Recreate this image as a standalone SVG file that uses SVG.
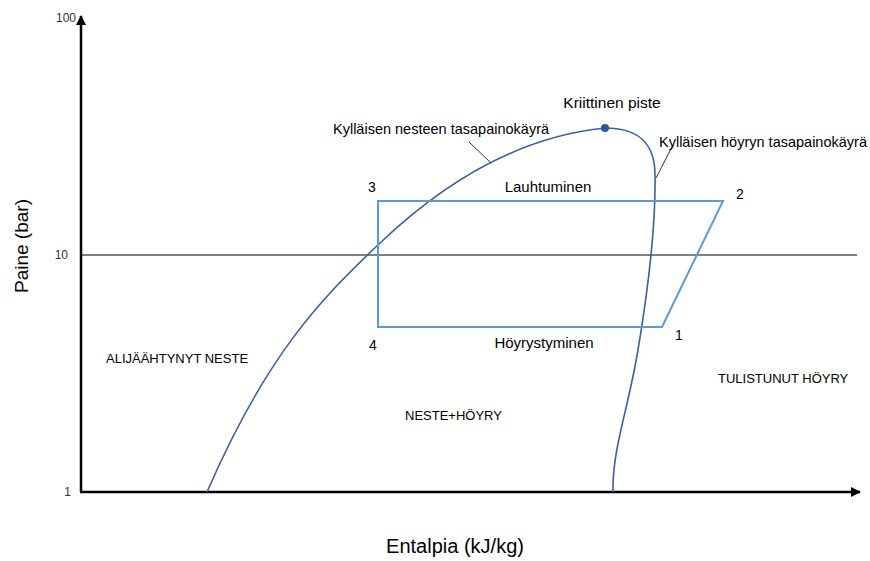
<svg xmlns="http://www.w3.org/2000/svg" width="870" height="561" viewBox="0 0 870 561">
<style>
text{font-family:"Liberation Sans",Arial,sans-serif;fill:#000}
.lbl{font-size:13px}
.lw{font-size:15px}
.num{font-size:14px}
.tick{font-size:12px;fill:#333}
.axis{stroke:#000;stroke-width:2.5;fill:none}
.sat{stroke:#3B5FA3;stroke-width:1.6;fill:none}
.cyc{stroke:#5B9BD5;stroke-width:2;fill:none}
.lead{stroke:#333;stroke-width:1;fill:none}
</style>
<defs>
<marker id="ah" viewBox="0 0 10 10" refX="9" refY="5" markerWidth="4" markerHeight="4" orient="auto">
<path d="M0,0 L10,5 L0,10 z" fill="#000"/>
</marker>
</defs>
<rect width="870" height="561" fill="#fff"/>
<g id="axes">
<line class="axis" x1="81" y1="492" x2="81" y2="16" marker-end="url(#ah)"/>
<line class="axis" x1="80" y1="492" x2="860" y2="492" marker-end="url(#ah)"/>
<line x1="81" y1="255" x2="857" y2="255" stroke="#000" stroke-width="1"/>
<text class="tick" x="76" y="22" text-anchor="end">100</text>
<text class="tick" x="68" y="259" text-anchor="end">10</text>
<text class="tick" x="71" y="496" text-anchor="end">1</text>
<text transform="translate(28,246) rotate(-90)" text-anchor="middle" font-size="19">Paine (bar)</text>
<text x="455" y="553" text-anchor="middle" font-size="20">Entalpia (kJ/kg)</text>
</g>
<g id="saturation">
<path class="sat" d="M207,492 C267,354 320,300 380,243 C450,176.5 525,136 605,128"/>
<path class="sat" d="M605,128 C635,128 655,140 655,175 C656,230 648,290 638,350 C628,410 612,450 613,492"/>
<circle cx="605" cy="128" r="4" fill="#2F5597"/>
</g>
<g id="cycle">
<path class="cyc" d="M378,327 L378,201 L723,201 L662,327 Z"/>
</g>
<g id="connectors">
<line class="lead" x1="469" y1="142" x2="491" y2="163"/>
<line class="lead" x1="673" y1="145" x2="656" y2="178"/>
</g>
<g id="labels">
<text x="612" y="108" text-anchor="middle" font-size="15.5">Kriittinen piste</text>
<text x="333" y="134" font-size="14.5">Kylläisen nesteen tasapainokäyrä</text>
<text x="659" y="147" font-size="14.5">Kylläisen höyryn tasapainokäyrä</text>
<text class="num" x="368" y="192">3</text>
<text class="lw" x="548" y="192" text-anchor="middle">Lauhtuminen</text>
<text class="num" x="736" y="199">2</text>
<text class="num" x="369" y="350">4</text>
<text class="lw" x="544" y="348" text-anchor="middle">Höyrystyminen</text>
<text class="num" x="675" y="340">1</text>
<text class="lbl" x="106" y="363">ALIJÄÄHTYNYT NESTE</text>
<text class="lbl" x="405" y="420">NESTE+HÖYRY</text>
<text class="lbl" x="718" y="383">TULISTUNUT HÖYRY</text>
</g>
</svg>
